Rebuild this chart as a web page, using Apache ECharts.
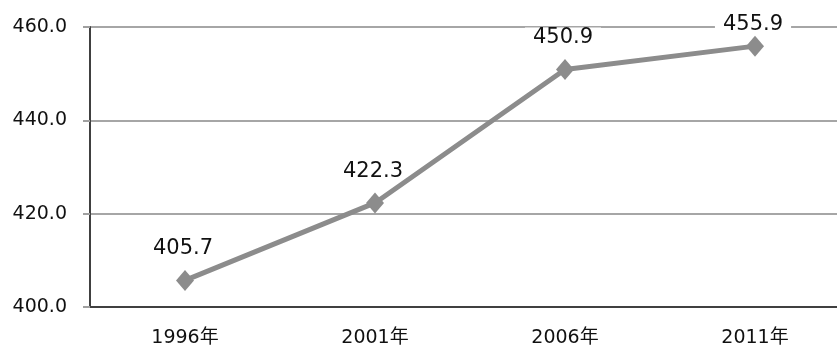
<!DOCTYPE html>
<html>
<head>
<meta charset="utf-8">
<script src="https://cdn.jsdelivr.net/npm/echarts@6/dist/echarts.min.js"></script>
<style>
  html, body { margin: 0; padding: 0; background: #fff; overflow: hidden; }
  /* the plot runs a little past the right edge of the window */
  #chart { width: 850px; height: 351px; }
</style>
</head>
<body>
<div id="chart"></div>
<script>
// One series over four survey years
const years = ['1996年', '2001年', '2006年', '2011年'];
const values = [405.7, 422.3, 450.9, 455.9];
const yTicks = { min: 400, max: 460, step: 20 };

const font = '"DejaVu Sans", "Noto Sans CJK SC", sans-serif';
const lineGray = '#8c8c8c';
const textColor = '#111111';
const chart = echarts.init(document.getElementById('chart'), null, { renderer: 'canvas' });

chart.setOption({
  animation: false,
  backgroundColor: '#ffffff',
  grid: { left: 90, top: 27, width: 760, height: 280, containLabel: false },
  xAxis: {
    type: 'category',
    data: years,
    boundaryGap: true,
    axisLine: { show: true, lineStyle: { color: '#404040', width: 2 } },
    axisTick: { show: false },
    axisLabel: { color: textColor, fontSize: 19, fontFamily: font, margin: 22 },
    splitLine: { show: false }
  },
  yAxis: {
    type: 'value',
    min: yTicks.min,
    max: yTicks.max,
    interval: yTicks.step,
    axisLine: { show: true, lineStyle: { color: '#404040', width: 2 } },
    axisTick: { show: true, length: 7, lineStyle: { color: '#a0a0a0', width: 2 } },
    axisLabel: {
      color: textColor, fontSize: 19, fontFamily: font, margin: 23,
      formatter: v => v.toFixed(1)
    },
    splitLine: { show: true, lineStyle: { color: '#a6a6a6', width: 2 } }
  },
  series: [
    {
      // value labels sit under the line, their white box breaks the gridlines
      type: 'scatter',
      z: 1,
      data: values.map((v, i) => ({
        value: v,
        label: i === values.length - 1 ? { offset: [-2, 11] } : { offset: [-2, 1] }
      })),
      symbol: 'circle',
      symbolSize: 16,
      itemStyle: { opacity: 0 },
      silent: true,
      label: {
        show: true,
        position: 'top',
        distance: 14,
        color: textColor,
        opacity: 1,
        fontSize: 21,
        fontFamily: font,
        backgroundColor: '#ffffff',
        padding: [0, 8],
        formatter: p => p.value.toFixed(1)
      }
    },
    {
      type: 'line',
      z: 3,
      data: values,
      symbol: 'diamond',
      symbolSize: [18, 21],
      lineStyle: { color: lineGray, width: 5 },
      itemStyle: { color: lineGray },
      label: { show: false }
    }
  ]
});
</script>
</body>
</html>
